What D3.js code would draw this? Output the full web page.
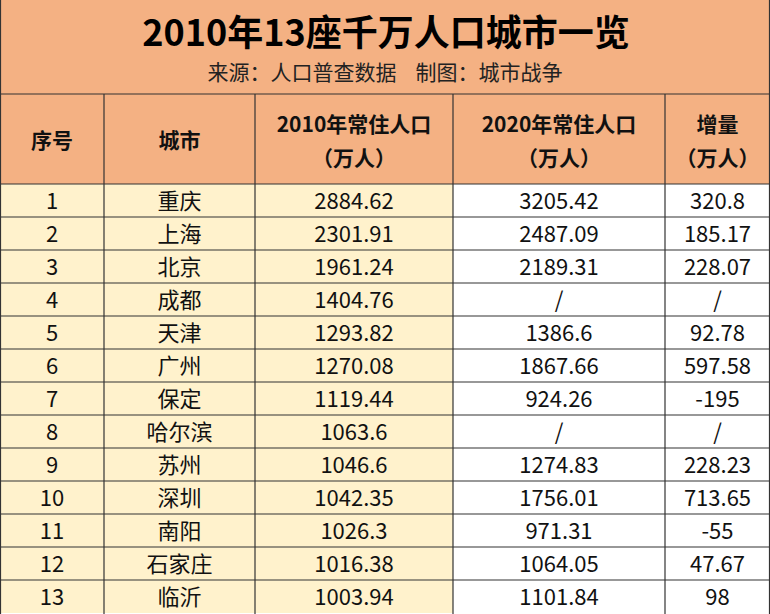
<!DOCTYPE html>
<html><head><meta charset="utf-8">
<script src="https://cdn.jsdelivr.net/npm/d3@7"></script>
<style>body{margin:0;background:#fff}</style></head>
<body><svg id="c" width="770" height="614"></svg>
<script>
const title="2010年13座千万人口城市一览";
const subtitle="来源：人口普查数据    制图：城市战争";
const headers=[["序号"],["城市"],["2010年常住人口","（万人）"],["2020年常住人口","（万人）"],["增量","（万人）"]];
const ranks=["1","2","3","4","5","6","7","8","9","10","11","12","13"];
const cities=["重庆","上海","北京","成都","天津","广州","保定","哈尔滨","苏州","深圳","南阳","石家庄","临沂"];
const pop2010=["2884.62","2301.91","1961.24","1404.76","1293.82","1270.08","1119.44","1063.6","1046.6","1042.35","1026.3","1016.38","1003.94"];
const pop2020=["3205.42","2487.09","2189.31","/","1386.6","1867.66","924.26","/","1274.83","1756.01","971.31","1064.05","1101.84"];
const growth=["320.8","185.17","228.07","/","92.78","597.58","-195","/","228.23","713.65","-55","47.67","98"];

const svg=d3.select("#c");
const font="'Noto Sans CJK SC', sans-serif";
const colX=[0,104,255,453,665,770];
const headTop=94, headBot=184, rowH=33;
const peach="#f4b183", cream="#fff2cc";
const cols=[ranks,cities,pop2010,pop2020,growth];

svg.append("rect").attr("width",770).attr("height",headBot).attr("fill",peach);
svg.append("text").attr("x",386).attr("y",46).attr("text-anchor","middle").attr("font-family",font)
 .attr("font-weight","bold").attr("font-size",36).text(title);
svg.append("text").attr("x",385).attr("y",80).attr("text-anchor","middle").attr("font-family",font)
 .attr("font-size",21).attr("fill","#222").style("white-space","pre").text(subtitle);

const y=d3.scaleBand().domain(d3.range(13)).range([headBot,headBot+13*rowH]);
cols.forEach((arr,ci)=>{
  const g=svg.append("g");
  g.selectAll("rect").data(arr).join("rect").attr("x",colX[ci]).attr("y",(d,i)=>y(i))
   .attr("width",colX[ci+1]-colX[ci]).attr("height",rowH).attr("fill",ci<3?cream:"#fff");
  g.selectAll("text").data(arr).join("text").attr("x",(colX[ci]+colX[ci+1])/2).attr("y",(d,i)=>y(i)+rowH/2+8)
   .attr("text-anchor","middle").attr("font-family",font).attr("font-size",22).attr("fill","#111").text(d=>d);
  const h=headers[ci], cx=(colX[ci]+colX[ci+1])/2;
  h.forEach((t,k)=>{
    svg.append("text").attr("x",cx).attr("y",h.length===1?148:(k===0?132:166)).attr("text-anchor","middle")
     .attr("font-family",font).attr("font-weight","bold").attr("font-size",21).attr("fill","#111").text(t);
  });
});
const lines=svg.append("g").attr("stroke","#333").attr("stroke-width",1.2);
[headTop,headBot].concat(d3.range(1,13).map(i=>y(i))).forEach(v=>lines.append("line").attr("x1",0).attr("x2",770).attr("y1",v).attr("y2",v));
colX.slice(1,5).forEach(v=>lines.append("line").attr("x1",v).attr("x2",v).attr("y1",headTop).attr("y2",614));
lines.append("line").attr("x1",0.5).attr("x2",0.5).attr("y1",0).attr("y2",614);
lines.append("line").attr("x1",769.5).attr("x2",769.5).attr("y1",0).attr("y2",614);
</script></body></html>
